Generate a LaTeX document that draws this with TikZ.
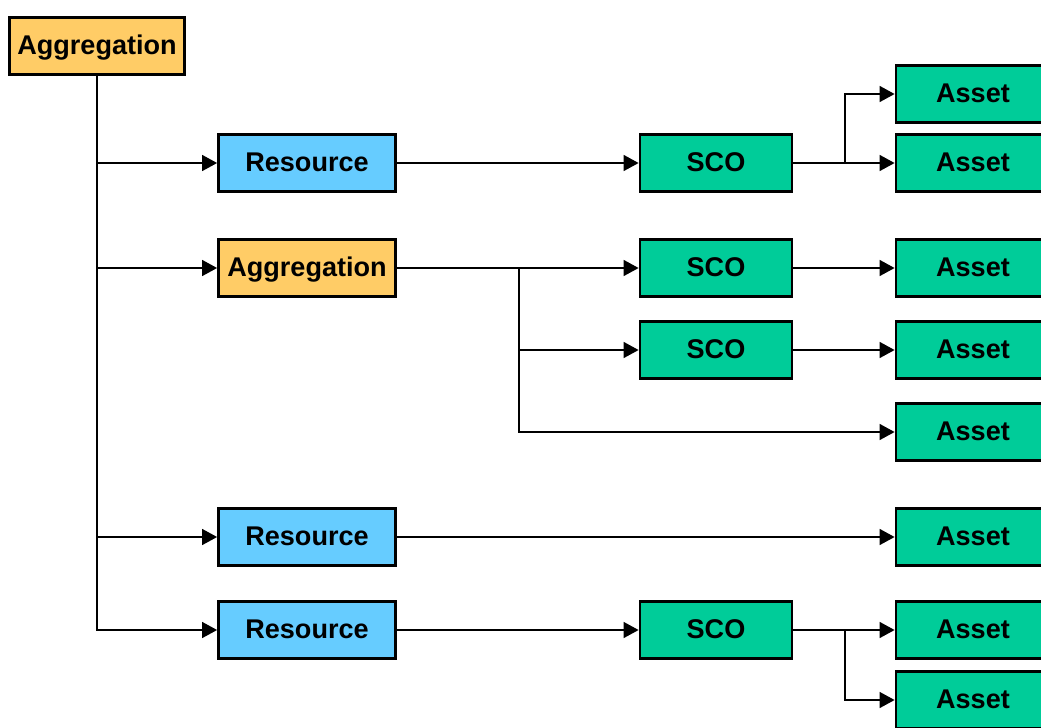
\documentclass[tikz,border=0pt]{standalone}
\usepackage{fontspec}
\setmainfont{Liberation Sans}
\usetikzlibrary{arrows.meta}
\definecolor{aggColor}{HTML}{FFCC66}
\definecolor{resColor}{HTML}{66CCFF}
\definecolor{scoColor}{HTML}{00CC99}
\begin{document}
\begin{tikzpicture}
[x=0.02cm,y=-0.02cm,
  boxDecorate/.style={shape=rectangle,draw,line width=1.6pt,inner sep=0pt,
    minimum height=1.15cm,text height=0.94em,text depth=0em,
    font=\fontsize{15.4}{18}\selectfont\bfseries},
  aggBox/.style={boxDecorate,fill=aggColor,minimum width=3.5cm},
  resBox/.style={boxDecorate,fill=resColor,minimum width=3.54cm},
  scoBox/.style={boxDecorate,fill=scoColor,minimum width=3.04cm},
  astBox/.style={boxDecorate,fill=scoColor,minimum width=3.08cm},
  lineDecorate/.style={line width=1pt,-{Triangle[length=8.5pt,width=9pt]}}]
\useasboundingbox (0,0) rectangle (1041,727);
\clip (0,0) rectangle (1041,727);
%% boxes
\foreach \nodename/\x/\y/\kind/\txt in {
  agg/97/46/aggBox/Aggregation,
  res1/307/163/resBox/Resource,
  res2/307/537/resBox/Resource,
  res3/307/630/resBox/Resource,
  sco1/716/163/scoBox/SCO,
  sco2/716/268/scoBox/SCO,
  sco3/716/350/scoBox/SCO,
  sco4/716/630/scoBox/SCO,
  ast1/973/94/astBox/Asset,
  ast2/973/163/astBox/Asset,
  ast3/973/268/astBox/Asset,
  ast4/973/350/astBox/Asset,
  ast5/973/432/astBox/Asset,
  ast6/973/537/astBox/Asset,
  ast7/973/630/astBox/Asset,
  ast8/973/700/astBox/Asset}
{
  \node (\nodename) at (\x,\y) [\kind] {\txt};
}
\node (agg2) at (307,268) [aggBox,minimum width=3.54cm] {Aggregation};
%% branch points
\coordinate (j1) at (845,163);
\coordinate (j2) at (519,268);
\coordinate (j3) at (845,630);
%% connectors
\foreach \endnode in {res1,agg2,res2,res3}
{
  \draw[lineDecorate] (agg.south) |- (\endnode.west);
}
\path
\foreach \startnode/\endnode in {
  res1/sco1, sco1/ast2, agg2/sco2, sco2/ast3, sco3/ast4,
  res2/ast6, res3/sco4, sco4/ast7}
{
  (\startnode.east) edge[lineDecorate] (\endnode.west)
};
\foreach \startnode/\endnode in {j1/ast1, j2/sco3, j2/ast5, j3/ast8}
{
  \draw[lineDecorate] (\startnode) |- (\endnode.west);
}
\end{tikzpicture}
\end{document}
